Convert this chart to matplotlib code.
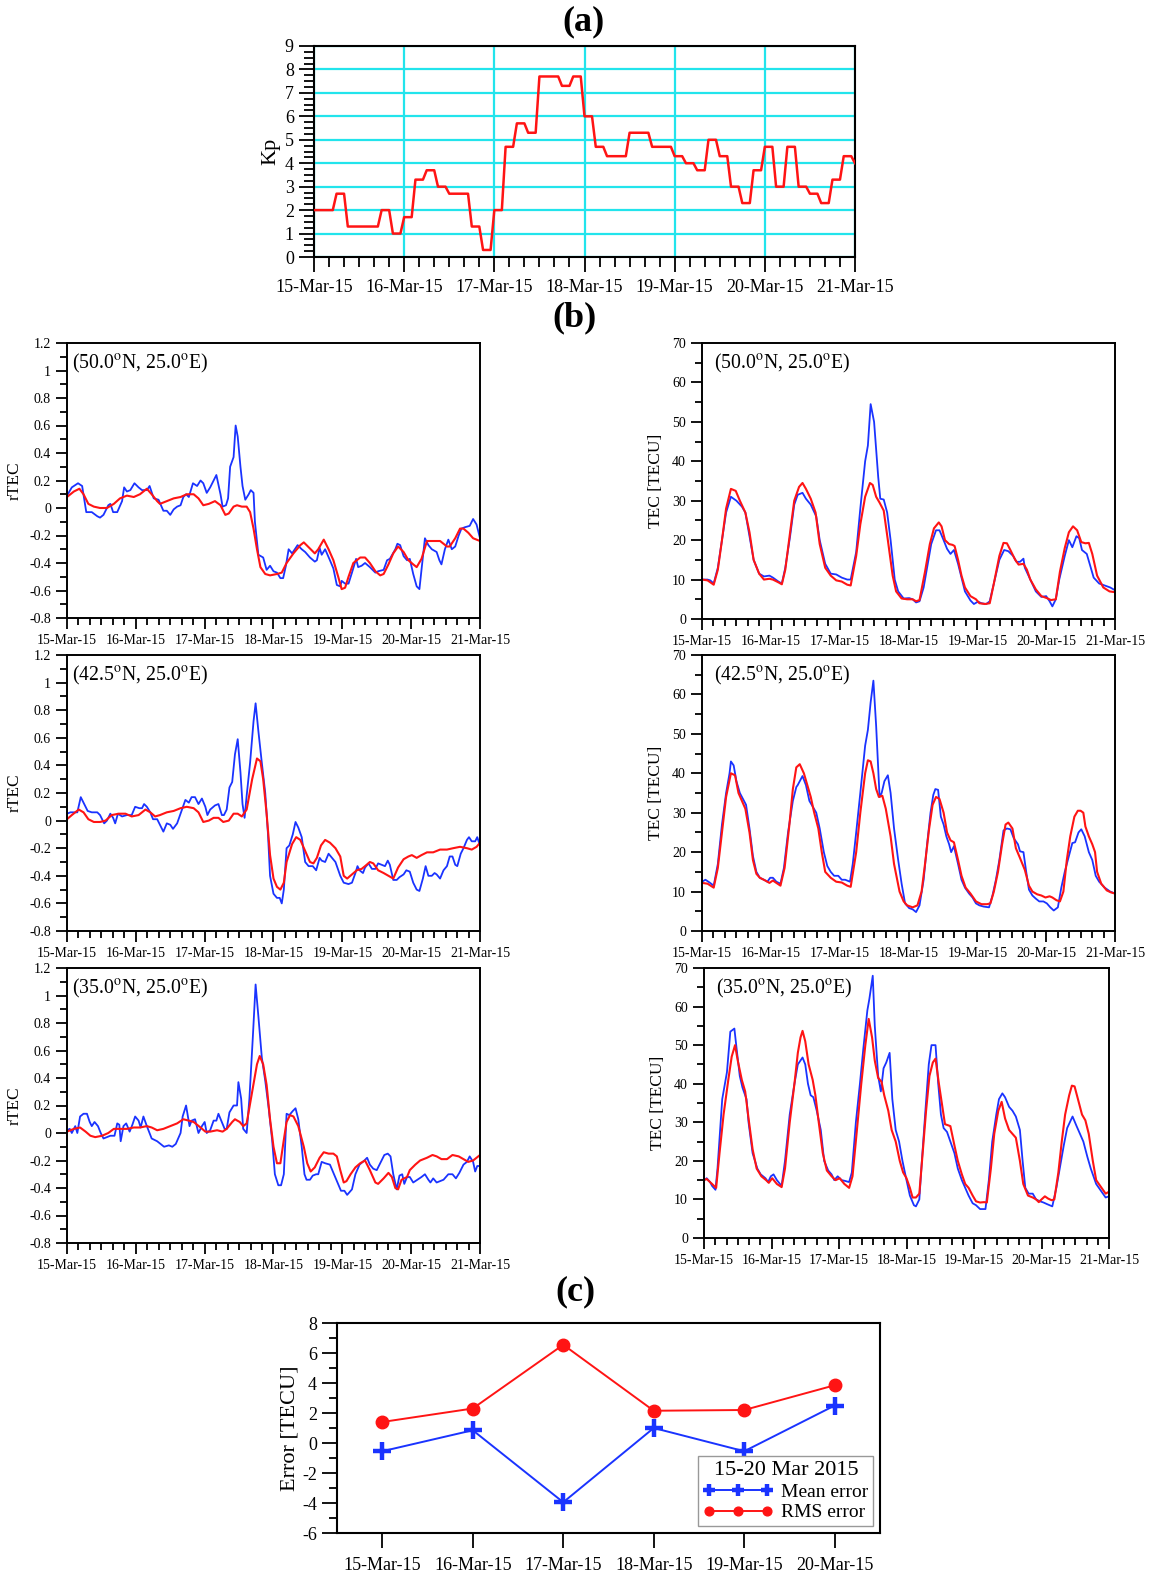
import numpy as np
import matplotlib
matplotlib.use("Agg")
import matplotlib.pyplot as plt
from matplotlib.ticker import MultipleLocator

plt.rcParams['font.family'] = ['Liberation Serif', 'DejaVu Serif']
plt.rcParams['mathtext.fontset'] = 'stix'
plt.rcParams['axes.unicode_minus'] = False

W, H = 1151, 1574
BLUE = '#1a33ff'
RED = '#ff1414'
CYAN = '#22e4ec'

date_labels = ['15-Mar-15', '16-Mar-15', '17-Mar-15', '18-Mar-15',
               '19-Mar-15', '20-Mar-15', '21-Mar-15']

# 3-hourly Kp index, 15-20 March 2015, and first value of 21 March
kp_3hourly = [2, 2, 2.7, 1.3, 1.3, 1.3, 2, 1,
              1.7, 3.3, 3.7, 3, 2.7, 2.7, 1.3, 0.3,
              2, 4.7, 5.7, 5.3, 7.7, 7.7, 7.3, 7.7,
              6, 4.7, 4.3, 4.3, 5.3, 5.3, 4.7, 4.7,
              4.3, 4, 3.7, 5, 4.3, 3, 2.3, 3.7,
              4.7, 3, 4.7, 3, 2.7, 2.3, 3.3, 4.3]
kp_next = 4.0

# (day since 15-Mar 00UT, value) pairs; obs = blue, model = red
rtec50_obs = [(0,0.09),(.07,0.15),(.16,0.18),(.22,0.16),(.28,-0.03),(.36,-0.03),(.44,-0.06),(.48,-0.07),(.53,-0.05),(.60,0.02),(.63,0.03),(.67,-0.03),(.73,-0.03),(.80,0.05),(.83,0.15),(.87,0.12),(.92,0.13),(.98,0.18),(1.04,0.15),(1.09,0.13),(1.16,0.13),(1.20,0.16),(1.26,0.07),(1.33,0.06),(1.40,-0.02),(1.45,-0.02),(1.50,-0.05),(1.55,-0.01),(1.60,0.01),(1.65,0.02),(1.69,0.08),(1.73,0.1),(1.77,0.08),(1.83,0.18),(1.89,0.16),(1.94,0.2),(1.98,0.18),(2.03,0.11),(2.08,0.15),(2.17,0.24),(2.23,0.1),(2.26,0.01),(2.31,0.02),(2.34,0.07),(2.37,0.3),(2.42,0.37),(2.45,0.6),(2.48,0.52),(2.52,0.3),(2.55,0.16),(2.59,0.06),(2.64,0.1),(2.67,0.13),(2.71,0.11),(2.73,-0.1),(2.78,-0.34),(2.85,-0.36),(2.90,-0.45),(2.95,-0.42),(3.00,-0.46),(3.05,-0.47),(3.10,-0.51),(3.14,-0.51),(3.18,-0.42),(3.22,-0.3),(3.27,-0.33),(3.31,-0.3),(3.35,-0.27),(3.41,-0.3),(3.46,-0.32),(3.53,-0.36),(3.60,-0.39),(3.63,-0.38),(3.67,-0.29),(3.70,-0.34),(3.75,-0.3),(3.82,-0.38),(3.87,-0.44),(3.92,-0.56),(3.97,-0.57),(3.99,-0.53),(4.04,-0.55),(4.09,-0.55),(4.14,-0.47),(4.20,-0.37),(4.23,-0.43),(4.28,-0.42),(4.33,-0.4),(4.40,-0.43),(4.48,-0.47),(4.52,-0.46),(4.60,-0.45),(4.65,-0.38),(4.69,-0.37),(4.77,-0.3),(4.80,-0.26),(4.84,-0.27),(4.89,-0.35),(4.94,-0.38),(4.98,-0.37),(5.03,-0.48),(5.08,-0.57),(5.12,-0.59),(5.15,-0.45),(5.20,-0.22),(5.25,-0.27),(5.30,-0.3),(5.37,-0.32),(5.41,-0.38),(5.44,-0.41),(5.49,-0.3),(5.54,-0.23),(5.59,-0.3),(5.64,-0.28),(5.69,-0.2),(5.73,-0.15),(5.78,-0.14),(5.85,-0.13),(5.90,-0.08),(5.95,-0.12),(6.00,-0.22)]
rtec50_mod = [(0,0.08),(.10,0.12),(.18,0.14),(.24,0.1),(.31,0.03),(.39,0.01),(.48,0.0),(.58,0.0),(.68,0.03),(.77,0.07),(.87,0.09),(.97,0.08),(1.06,0.1),(1.16,0.14),(1.23,0.1),(1.31,0.05),(1.35,0.03),(1.45,0.05),(1.55,0.07),(1.65,0.08),(1.74,0.1),(1.84,0.1),(1.91,0.07),(1.98,0.02),(2.06,0.03),(2.15,0.05),(2.23,0.02),(2.30,-0.05),(2.35,-0.04),(2.42,0.01),(2.47,0.02),(2.54,0.01),(2.61,0.01),(2.66,-0.03),(2.71,-0.15),(2.76,-0.3),(2.81,-0.43),(2.88,-0.48),(2.95,-0.49),(3.05,-0.48),(3.12,-0.47),(3.19,-0.4),(3.29,-0.33),(3.39,-0.27),(3.44,-0.25),(3.48,-0.27),(3.56,-0.31),(3.60,-0.33),(3.65,-0.3),(3.73,-0.23),(3.80,-0.3),(3.87,-0.38),(3.94,-0.5),(3.99,-0.59),(4.04,-0.58),(4.09,-0.5),(4.16,-0.4),(4.26,-0.36),(4.33,-0.36),(4.40,-0.4),(4.48,-0.46),(4.55,-0.49),(4.60,-0.48),(4.67,-0.41),(4.74,-0.33),(4.81,-0.28),(4.89,-0.32),(4.96,-0.38),(5.03,-0.41),(5.08,-0.43),(5.15,-0.37),(5.23,-0.24),(5.32,-0.24),(5.42,-0.24),(5.52,-0.28),(5.56,-0.28),(5.64,-0.22),(5.71,-0.15),(5.76,-0.15),(5.83,-0.18),(5.90,-0.22),(6.00,-0.24)]

rtec425_obs = [(0,0.05),(.05,0.06),(.15,0.06),(.20,0.17),(.24,0.13),(.30,0.07),(.36,0.06),(.44,0.06),(.48,0.04),(.54,-0.02),(.58,0.0),(.63,0.05),(.67,0.02),(.70,-0.02),(.74,0.05),(.80,0.03),(.87,0.04),(.94,0.04),(.99,0.1),(1.05,0.09),(1.09,0.09),(1.12,0.12),(1.16,0.1),(1.21,0.06),(1.25,0.01),(1.31,0.01),(1.35,-0.03),(1.40,-0.08),(1.45,-0.02),(1.50,-0.03),(1.54,-0.06),(1.60,-0.02),(1.67,0.08),(1.72,0.15),(1.77,0.13),(1.81,0.17),(1.86,0.17),(1.91,0.12),(1.96,0.16),(2.01,0.1),(2.04,0.04),(2.08,0.08),(2.15,0.11),(2.20,0.12),(2.25,0.04),(2.28,0.04),(2.32,0.08),(2.36,0.24),(2.40,0.28),(2.44,0.48),(2.48,0.59),(2.52,0.35),(2.55,0.12),(2.58,0.02),(2.61,0.18),(2.66,0.42),(2.71,0.72),(2.74,0.85),(2.78,0.65),(2.83,0.42),(2.88,0.2),(2.92,-0.1),(2.95,-0.4),(3.00,-0.53),(3.05,-0.56),(3.09,-0.56),(3.12,-0.6),(3.15,-0.5),(3.19,-0.2),(3.23,-0.18),(3.28,-0.1),(3.32,-0.01),(3.36,-0.05),(3.41,-0.12),(3.46,-0.3),(3.51,-0.33),(3.57,-0.33),(3.62,-0.36),(3.67,-0.27),(3.70,-0.29),(3.75,-0.3),(3.80,-0.24),(3.85,-0.27),(3.90,-0.3),(3.97,-0.4),(4.02,-0.45),(4.09,-0.46),(4.14,-0.45),(4.19,-0.38),(4.22,-0.33),(4.25,-0.36),(4.30,-0.38),(4.33,-0.34),(4.38,-0.31),(4.43,-0.35),(4.48,-0.35),(4.52,-0.31),(4.57,-0.32),(4.62,-0.33),(4.66,-0.29),(4.69,-0.32),(4.74,-0.43),(4.79,-0.43),(4.83,-0.41),(4.89,-0.39),(4.93,-0.36),(4.98,-0.37),(5.03,-0.45),(5.08,-0.5),(5.12,-0.51),(5.17,-0.42),(5.21,-0.33),(5.25,-0.4),(5.30,-0.4),(5.34,-0.38),(5.37,-0.39),(5.42,-0.42),(5.47,-0.36),(5.52,-0.33),(5.56,-0.26),(5.60,-0.26),(5.64,-0.32),(5.67,-0.33),(5.72,-0.24),(5.76,-0.2),(5.81,-0.14),(5.84,-0.12),(5.88,-0.15),(5.93,-0.15),(5.96,-0.12),(6.00,-0.18)]
rtec425_mod = [(0,0.01),(.07,0.04),(.17,0.08),(.24,0.06),(.31,0.01),(.39,-0.01),(.48,-0.01),(.56,0.0),(.65,0.04),(.75,0.05),(.85,0.05),(.94,0.03),(1.04,0.04),(1.14,0.08),(1.21,0.06),(1.28,0.03),(1.35,0.04),(1.45,0.06),(1.55,0.07),(1.65,0.09),(1.74,0.1),(1.84,0.09),(1.91,0.06),(1.98,-0.01),(2.06,0.0),(2.13,0.02),(2.20,0.02),(2.27,-0.01),(2.35,0.0),(2.42,0.05),(2.48,0.05),(2.54,0.03),(2.61,0.08),(2.69,0.3),(2.76,0.45),(2.81,0.43),(2.85,0.3),(2.90,0.05),(2.95,-0.25),(3.00,-0.42),(3.05,-0.48),(3.10,-0.5),(3.15,-0.45),(3.19,-0.3),(3.27,-0.17),(3.33,-0.12),(3.39,-0.14),(3.46,-0.22),(3.53,-0.3),(3.58,-0.31),(3.63,-0.27),(3.69,-0.18),(3.75,-0.14),(3.82,-0.16),(3.90,-0.2),(3.97,-0.26),(4.02,-0.4),(4.07,-0.42),(4.14,-0.39),(4.21,-0.36),(4.28,-0.35),(4.33,-0.33),(4.40,-0.3),(4.45,-0.31),(4.52,-0.36),(4.60,-0.38),(4.67,-0.4),(4.74,-0.42),(4.81,-0.34),(4.89,-0.28),(4.96,-0.26),(5.01,-0.25),(5.08,-0.27),(5.15,-0.25),(5.23,-0.23),(5.32,-0.23),(5.42,-0.21),(5.52,-0.21),(5.61,-0.2),(5.71,-0.19),(5.81,-0.2),(5.88,-0.21),(5.95,-0.19),(6.00,-0.16)]

rtec35_obs = [(0,0.02),(.04,0.03),(.07,0.0),(.12,0.05),(.15,0.0),(.19,0.12),(.24,0.14),(.29,0.14),(.33,0.08),(.36,0.05),(.40,0.08),(.45,0.05),(.49,0.0),(.53,-0.04),(.58,-0.03),(.63,-0.02),(.69,-0.02),(.73,0.07),(.76,0.06),(.78,-0.06),(.82,0.05),(.86,0.07),(.91,0.01),(.95,0.06),(.99,0.12),(1.04,0.09),(1.07,0.04),(1.11,0.12),(1.16,0.05),(1.23,-0.04),(1.31,-0.06),(1.36,-0.08),(1.41,-0.1),(1.48,-0.09),(1.53,-0.1),(1.58,-0.08),(1.65,0.0),(1.68,0.12),(1.73,0.2),(1.78,0.05),(1.81,0.09),(1.86,0.1),(1.91,0.0),(1.96,0.05),(2.00,0.08),(2.03,0.0),(2.08,0.02),(2.13,0.09),(2.17,0.09),(2.20,0.14),(2.25,0.08),(2.29,0.03),(2.32,0.03),(2.36,0.15),(2.42,0.2),(2.47,0.2),(2.49,0.37),(2.53,0.25),(2.56,0.03),(2.61,0.0),(2.65,0.25),(2.70,0.7),(2.74,1.08),(2.78,0.85),(2.83,0.55),(2.88,0.38),(2.93,0.18),(2.98,-0.05),(3.02,-0.3),(3.07,-0.38),(3.11,-0.38),(3.15,-0.3),(3.19,0.14),(3.23,0.13),(3.28,0.16),(3.32,0.18),(3.36,0.1),(3.41,-0.1),(3.45,-0.3),(3.48,-0.34),(3.53,-0.34),(3.57,-0.31),(3.62,-0.3),(3.65,-0.3),(3.70,-0.21),(3.75,-0.22),(3.82,-0.23),(3.87,-0.29),(3.93,-0.36),(3.98,-0.42),(4.03,-0.42),(4.07,-0.45),(4.14,-0.41),(4.19,-0.3),(4.25,-0.23),(4.32,-0.2),(4.36,-0.18),(4.40,-0.23),(4.45,-0.26),(4.50,-0.27),(4.55,-0.22),(4.61,-0.16),(4.66,-0.15),(4.70,-0.17),(4.74,-0.3),(4.79,-0.41),(4.83,-0.31),(4.87,-0.3),(4.90,-0.37),(4.94,-0.32),(4.98,-0.32),(5.03,-0.36),(5.09,-0.34),(5.15,-0.32),(5.20,-0.3),(5.25,-0.34),(5.28,-0.36),(5.32,-0.33),(5.37,-0.36),(5.42,-0.35),(5.47,-0.34),(5.54,-0.3),(5.60,-0.3),(5.65,-0.33),(5.70,-0.29),(5.76,-0.23),(5.81,-0.21),(5.85,-0.17),(5.90,-0.21),(5.93,-0.28),(5.96,-0.24),(6.00,-0.24)]
rtec35_mod = [(0,0.01),(.10,0.03),(.19,0.04),(.27,0.01),(.34,-0.02),(.41,-0.03),(.51,-0.02),(.60,0.0),(.68,0.03),(.77,0.03),(.87,0.03),(.97,0.04),(1.06,0.04),(1.16,0.05),(1.23,0.04),(1.31,0.02),(1.40,0.03),(1.50,0.05),(1.60,0.07),(1.69,0.1),(1.77,0.09),(1.84,0.08),(1.94,0.04),(2.01,0.01),(2.08,0.01),(2.18,0.02),(2.26,0.01),(2.32,0.03),(2.40,0.08),(2.44,0.1),(2.51,0.08),(2.56,0.05),(2.61,0.07),(2.69,0.3),(2.76,0.5),(2.80,0.56),(2.85,0.5),(2.90,0.35),(2.95,0.1),(3.00,-0.1),(3.05,-0.22),(3.10,-0.22),(3.15,-0.05),(3.19,0.08),(3.24,0.13),(3.29,0.12),(3.36,0.05),(3.44,-0.1),(3.49,-0.22),(3.54,-0.28),(3.60,-0.25),(3.67,-0.18),(3.73,-0.14),(3.80,-0.15),(3.87,-0.15),(3.92,-0.17),(3.97,-0.27),(4.02,-0.36),(4.06,-0.35),(4.12,-0.3),(4.19,-0.25),(4.26,-0.22),(4.33,-0.2),(4.40,-0.27),(4.48,-0.36),(4.52,-0.37),(4.60,-0.33),(4.67,-0.29),(4.72,-0.32),(4.77,-0.4),(4.81,-0.41),(4.86,-0.34),(4.94,-0.32),(4.98,-0.27),(5.06,-0.23),(5.13,-0.2),(5.23,-0.18),(5.31,-0.16),(5.37,-0.17),(5.44,-0.19),(5.52,-0.19),(5.60,-0.16),(5.69,-0.17),(5.76,-0.19),(5.83,-0.21),(5.90,-0.2),(6.00,-0.16)]

tec50_obs = [(0,10),(.08,10),(.12,9.8),(.17,9),(.23,13),(.29,20),(.35,27),(.42,31),(.50,30),(.58,28.5),(.63,27),(.69,21),(.75,15),(.83,11.5),(.90,10.8),(.98,11),(1.03,10.5),(1.11,9.5),(1.16,9),(1.21,13),(1.28,21),(1.34,29),(1.39,31.5),(1.46,32),(1.51,30.5),(1.58,29),(1.66,26),(1.71,20),(1.79,14),(1.87,11.5),(1.95,11.3),(2.03,10.5),(2.11,10),(2.16,10),(2.24,17),(2.30,28),(2.37,40),(2.41,44),(2.45,54.5),(2.50,50),(2.56,36),(2.59,30.5),(2.64,30.3),(2.69,27),(2.74,20),(2.80,10),(2.85,7),(2.93,5.2),(3.01,5.3),(3.06,5),(3.11,4.2),(3.16,4.5),(3.22,8),(3.27,13),(3.33,19),(3.40,22.5),(3.45,22.5),(3.51,20),(3.56,17.8),(3.61,16.5),(3.66,17.5),(3.72,14),(3.77,10.5),(3.82,7),(3.90,4.7),(3.95,3.8),(4.01,4.4),(4.06,4),(4.13,3.8),(4.18,4.5),(4.24,9),(4.32,15),(4.39,17.5),(4.45,17.2),(4.52,16),(4.57,14.5),(4.62,14.5),(4.67,15.3),(4.69,13),(4.77,10),(4.85,7),(4.93,5.6),(5.00,5.8),(5.05,4.5),(5.09,3.2),(5.14,5),(5.19,10),(5.27,16),(5.33,20),(5.38,18.2),(5.44,21),(5.48,20.5),(5.52,17.5),(5.59,16.5),(5.64,13.5),(5.69,10.5),(5.77,9),(5.85,8.5),(5.93,8),(6.00,7.3)]
tec50_mod = [(0,10),(.08,9.8),(.17,8.7),(.23,12.5),(.29,20),(.35,28),(.42,33),(.49,32.5),(.55,30),(.63,27),(.69,22),(.75,15),(.83,11.5),(.90,10),(.98,10.2),(1.03,10),(1.11,9.3),(1.16,8.8),(1.21,12.5),(1.28,22),(1.34,30),(1.41,33.5),(1.46,34.5),(1.51,33),(1.58,30.5),(1.65,27),(1.71,19),(1.79,13),(1.87,11),(1.95,9.8),(2.03,9.5),(2.11,8.7),(2.16,8.5),(2.24,16),(2.30,24),(2.37,31),(2.44,34.5),(2.48,34),(2.53,31),(2.58,29.5),(2.64,27.5),(2.70,20),(2.77,11),(2.82,7),(2.90,5.2),(2.98,5),(3.06,5),(3.11,4.5),(3.16,4.8),(3.24,12),(3.31,19),(3.37,23),(3.44,24.5),(3.48,23.5),(3.53,20),(3.59,19),(3.64,18.8),(3.67,18.5),(3.72,15),(3.77,11),(3.82,8),(3.90,5.8),(3.98,5),(4.03,4),(4.11,3.8),(4.18,4),(4.24,9),(4.32,16),(4.38,19.3),(4.43,19.2),(4.48,17.5),(4.55,15),(4.60,13.8),(4.67,14),(4.72,12.5),(4.77,10),(4.85,7.5),(4.93,5.8),(5.01,5.3),(5.07,4.8),(5.14,5),(5.20,12),(5.27,18),(5.33,22),(5.39,23.5),(5.45,22.5),(5.51,19.5),(5.57,19.2),(5.62,19.3),(5.67,16.5),(5.74,11),(5.83,8),(5.92,7),(6.00,6.8)]

tec425_obs = [(0,12.5),(.05,13),(.11,12.3),(.17,11.5),(.23,17),(.29,27),(.35,35),(.40,40),(.42,43),(.46,42),(.50,38),(.55,35),(.61,33),(.64,32),(.69,26),(.74,19),(.79,15),(.84,13.5),(.90,13),(.95,12.5),(.99,13.5),(1.03,13.5),(1.08,12.5),(1.14,12),(1.19,16),(1.25,25),(1.32,33),(1.37,36.5),(1.39,37),(1.46,39.3),(1.51,37),(1.56,33),(1.61,31.5),(1.66,30),(1.71,26),(1.77,20),(1.82,16.5),(1.87,15),(1.92,14),(1.98,14),(2.03,13),(2.08,13),(2.15,12.5),(2.19,17),(2.24,25),(2.30,35),(2.37,47),(2.41,51),(2.45,58),(2.49,63.5),(2.53,52),(2.58,34),(2.61,35),(2.65,38),(2.70,39.5),(2.74,35),(2.79,26),(2.85,18),(2.90,12),(2.95,7),(3.01,5.8),(3.06,5.5),(3.11,4.8),(3.16,6.5),(3.22,13),(3.27,22),(3.32,30),(3.36,34.5),(3.39,36),(3.43,35.8),(3.47,29),(3.51,27),(3.55,24),(3.59,22),(3.62,20),(3.66,21.5),(3.72,17),(3.77,13),(3.82,11),(3.88,9.5),(3.93,8.5),(3.98,7),(4.03,6.5),(4.09,6.2),(4.17,6),(4.22,9),(4.27,13),(4.32,18),(4.38,25.5),(4.43,26),(4.48,25.8),(4.53,23.5),(4.59,22),(4.62,20.2),(4.67,20),(4.71,15),(4.75,10.5),(4.80,9),(4.85,8.2),(4.90,7.5),(4.96,7.5),(5.01,7),(5.06,6),(5.11,5.2),(5.17,6),(5.22,11),(5.27,15),(5.33,19),(5.38,22.3),(5.42,22.5),(5.47,25),(5.51,25.8),(5.56,24),(5.62,20),(5.67,18),(5.72,14),(5.77,12.5),(5.85,11),(5.93,10),(6.00,9.5)]
tec425_mod = [(0,12.2),(.08,12),(.17,11),(.23,16),(.29,25),(.35,34),(.42,40),(.48,39.5),(.53,35),(.58,33),(.63,31),(.69,25),(.74,18),(.79,14.5),(.84,13.5),(.92,12.8),(.98,12.2),(1.03,12.8),(1.08,12.2),(1.14,11.5),(1.20,16),(1.27,27),(1.32,36),(1.37,41.5),(1.42,42.3),(1.48,40),(1.53,37),(1.58,34),(1.63,30),(1.69,26),(1.74,20),(1.79,15),(1.87,13.5),(1.95,12.5),(2.03,12.3),(2.11,11.5),(2.16,11.2),(2.24,20),(2.30,30),(2.37,40),(2.41,43.3),(2.45,43),(2.49,40),(2.53,36),(2.57,34),(2.62,34.3),(2.67,31),(2.74,24),(2.79,17),(2.87,10),(2.93,7.5),(2.98,6.5),(3.06,6),(3.13,6.5),(3.19,10),(3.24,17),(3.30,26),(3.35,32),(3.40,34),(3.45,33.5),(3.51,30),(3.56,25),(3.61,23),(3.66,22.5),(3.72,18),(3.77,14),(3.83,11),(3.90,9.5),(3.98,7.5),(4.06,6.8),(4.14,6.8),(4.19,7),(4.24,10),(4.30,15),(4.36,22),(4.41,27),(4.45,27.5),(4.51,26),(4.56,21),(4.62,18.5),(4.69,15.5),(4.75,11.5),(4.80,10),(4.87,9.3),(4.93,9),(4.99,8.5),(5.05,8.8),(5.09,8.5),(5.15,7.8),(5.20,7.5),(5.25,10),(5.30,18),(5.35,24),(5.41,29),(5.46,30.5),(5.50,30.5),(5.54,30),(5.57,26.5),(5.62,24),(5.67,22),(5.71,20),(5.74,15),(5.80,12),(5.88,10.3),(5.94,9.8),(6.00,9.5)]

tec35_obs = [(0,15),(.04,15.5),(.09,14.5),(.12,13.5),(.17,12.5),(.20,18),(.27,36),(.34,43),(.39,53.5),(.45,54.3),(.49,48),(.53,42),(.57,39),(.63,36),(.66,30),(.72,22),(.79,18),(.84,16.5),(.91,15.5),(.95,14.5),(.99,16),(1.03,16.5),(1.08,15),(1.15,13.5),(1.20,20),(1.27,32),(1.34,40),(1.39,45),(1.46,46.8),(1.50,45),(1.54,40),(1.58,37),(1.62,36.5),(1.67,33),(1.73,28),(1.78,20),(1.84,17.5),(1.89,16.5),(1.93,15),(1.98,16),(2.04,15),(2.09,14.8),(2.15,14.5),(2.19,17),(2.25,30),(2.31,40),(2.36,49),(2.42,59),(2.45,62),(2.50,68),(2.53,55),(2.58,42),(2.62,38),(2.66,44),(2.70,45.5),(2.75,48),(2.79,36),(2.84,28),(2.89,25),(2.94,20),(3.00,15),(3.05,11),(3.11,8.5),(3.14,8.2),(3.19,10),(3.22,18),(3.28,33),(3.33,45),(3.37,50),(3.43,50),(3.47,40),(3.51,32),(3.55,28.5),(3.60,27.5),(3.65,25),(3.71,22),(3.76,18),(3.82,15),(3.87,13),(3.92,11),(3.98,9),(4.03,8.5),(4.09,7.5),(4.17,7.5),(4.22,15),(4.27,25),(4.33,32),(4.37,36),(4.42,37.5),(4.46,36.5),(4.52,34),(4.57,33),(4.62,31.5),(4.68,28),(4.72,20),(4.76,13),(4.81,11.5),(4.87,11.5),(4.92,10),(4.98,9.5),(5.03,9.2),(5.08,8.8),(5.16,8.2),(5.22,13),(5.27,18),(5.33,24),(5.38,28.5),(5.42,30),(5.46,31.5),(5.52,29),(5.57,27),(5.62,25),(5.68,21),(5.73,18),(5.81,14),(5.89,12),(5.95,10.5),(6.00,10.8)]
tec35_mod = [(0,15),(.04,15.3),(.12,14),(.18,13),(.23,22),(.29,32),(.36,41),(.41,47),(.46,50),(.50,46),(.56,41),(.61,38),(.66,31),(.72,23),(.78,18),(.85,16),(.92,15),(.96,14.3),(1.01,15.5),(1.08,14),(1.15,13.2),(1.20,18),(1.27,30),(1.34,40),(1.39,48),(1.43,52),(1.46,53.7),(1.50,51),(1.55,45),(1.61,41),(1.65,37),(1.70,30),(1.76,22),(1.82,17.5),(1.89,16),(1.95,15),(2.01,15.5),(2.08,14),(2.15,13),(2.20,16),(2.26,27),(2.33,40),(2.39,50),(2.44,56.8),(2.49,52),(2.53,46),(2.58,41.5),(2.63,40.5),(2.67,37),(2.73,33),(2.78,28),(2.84,25),(2.90,20),(2.95,17),(3.00,15.5),(3.05,13),(3.09,10.5),(3.14,10.5),(3.19,11.5),(3.23,20),(3.29,33),(3.34,42),(3.39,45.5),(3.43,46.5),(3.48,40),(3.54,33),(3.57,29.5),(3.62,29.2),(3.65,29),(3.71,24),(3.76,20),(3.82,16.5),(3.87,14),(3.92,13),(3.98,11),(4.03,9.5),(4.09,9.2),(4.15,9.3),(4.19,9.2),(4.25,18),(4.30,27),(4.36,33),(4.41,35.3),(4.46,31),(4.52,28),(4.57,27),(4.62,26),(4.68,20),(4.73,14),(4.80,11),(4.87,10.5),(4.92,10),(4.96,9.3),(5.00,10),(5.05,10.8),(5.10,10.2),(5.15,9.8),(5.19,10),(5.25,17),(5.30,25),(5.35,32),(5.41,37),(5.45,39.5),(5.49,39.3),(5.54,36),(5.60,32),(5.65,30.5),(5.70,27),(5.76,20),(5.81,15),(5.89,13),(5.95,11.5),(6.00,12)]

# Daily error statistics, 15-20 March 2015
err_days = date_labels[:6]
mean_error = [-0.55, 0.85, -3.95, 1.0, -0.55, 2.5]
rms_error = [1.4, 2.3, 6.55, 2.15, 2.2, 3.85]

loc_labels = ['(50.0$^{\\rm o}$N, 25.0$^{\\rm o}$E)',
              '(42.5$^{\\rm o}$N, 25.0$^{\\rm o}$E)',
              '(35.0$^{\\rm o}$N, 25.0$^{\\rm o}$E)']

fig = plt.figure(figsize=(W / 100, H / 100), dpi=100)


def add_box(l, t, r, b):
    return fig.add_axes([l / W, 1 - b / H, (r - l) / W, (b - t) / H])


def frame(ax, major_len, minor_len, lw=1.5):
    for s in ax.spines.values():
        s.set_linewidth(lw)
    ax.tick_params(which='both', direction='out', top=False, right=False,
                   width=1.3, colors='black')
    ax.tick_params(which='major', length=major_len)
    ax.tick_params(which='minor', length=minor_len)


def split(pairs):
    d, v = zip(*pairs)
    return np.array(d), np.array(v)


def day_axis(ax, size):
    ax.set_xlim(0, 6)
    ax.set_xticks(range(7))
    ax.set_xticklabels(date_labels, fontsize=size)
    ax.xaxis.set_minor_locator(MultipleLocator(1 / 6))


# ---------------- (a) Kp ----------------
ax = add_box(314, 46, 855, 257)
kp_hourly = np.append(np.repeat(kp_3hourly, 3), kp_next)
ax.plot(np.arange(len(kp_hourly)) / 24, kp_hourly, color=RED, lw=1.8, zorder=3)
day_axis(ax, 13)
ax.set_ylim(0, 9)
ax.set_yticks(range(10))
ax.yaxis.set_minor_locator(MultipleLocator(0.25))
ax.tick_params(axis='y', labelsize=13)
ax.grid(True, which='major', color=CYAN, lw=1.6)
ax.set_axisbelow(True)
frame(ax, 11, 7)
ax.tick_params(axis='x', pad=5)
ax.set_ylabel('Kp', fontsize=16, labelpad=3)
fig.text(583 / W, 1 - 22 / H, '(a)', fontsize=26, fontweight='bold',
         ha='center', va='center')

# ---------------- (b) rTEC and TEC ----------------
fig.text(575 / W, 1 - 318 / H, '(b)', fontsize=26, fontweight='bold',
         ha='center', va='center')

left_boxes = [(67, 343, 480, 618), (67, 655, 480, 931), (67, 968, 480, 1243)]
right_boxes = [(702, 343, 1115, 619), (702, 655, 1115, 931), (704, 968, 1109, 1238)]
rtec_sets = [(rtec50_obs, rtec50_mod), (rtec425_obs, rtec425_mod), (rtec35_obs, rtec35_mod)]
tec_sets = [(tec50_obs, tec50_mod), (tec425_obs, tec425_mod), (tec35_obs, tec35_mod)]

for i in range(3):
    # relative TEC
    ax = add_box(*left_boxes[i])
    obs, mod = rtec_sets[i]
    ax.plot(*split(obs), color=BLUE, lw=1.3)
    ax.plot(*split(mod), color=RED, lw=1.5)
    day_axis(ax, 10)
    ax.set_ylim(-0.8, 1.2)
    ax.set_yticks(np.round(np.arange(-0.8, 1.21, 0.2), 1))
    ax.set_yticklabels(['-0.8', '-0.6', '-0.4', '-0.2', '0', '0.2', '0.4',
                        '0.6', '0.8', '1', '1.2'])
    ax.yaxis.set_minor_locator(MultipleLocator(0.1))
    ax.tick_params(axis='y', labelsize=10)
    frame(ax, 8, 5, lw=1.4)
    ax.set_ylabel('rTEC', fontsize=12.5, labelpad=5)
    ax.text(0.012, 0.925, loc_labels[i], transform=ax.transAxes,
            fontsize=14.2, ha='left', va='center')

    # absolute TEC
    ax = add_box(*right_boxes[i])
    obs, mod = tec_sets[i]
    ax.plot(*split(obs), color=BLUE, lw=1.3)
    ax.plot(*split(mod), color=RED, lw=1.5)
    day_axis(ax, 10)
    ax.set_ylim(0, 70)
    ax.set_yticks(range(0, 71, 10))
    ax.yaxis.set_minor_locator(MultipleLocator(5))
    ax.tick_params(axis='y', labelsize=10)
    frame(ax, 8, 5, lw=1.4)
    ax.set_ylabel('TEC [TECU]', fontsize=12.5, labelpad=6)
    ax.text(0.03, 0.925, loc_labels[i], transform=ax.transAxes,
            fontsize=14.2, ha='left', va='center')

# ---------------- (c) error statistics ----------------
fig.text(575 / W, 1 - 1292 / H, '(c)', fontsize=26, fontweight='bold',
         ha='center', va='center')
ax = add_box(337, 1323, 880, 1533)
xc = np.arange(len(err_days))
ax.plot(xc, mean_error, color=BLUE, lw=1.4, marker='+', markersize=13,
        markeredgewidth=3.2, label='Mean error')
ax.plot(xc, rms_error, color=RED, lw=1.4, marker='o', markersize=9,
        label='RMS error')
ax.set_xlim(-0.5, 5.5)
ax.set_xticks(xc)
ax.set_xticklabels(err_days, fontsize=13)
ax.set_ylim(-6, 8)
ax.set_yticks(range(-6, 9, 2))
ax.yaxis.set_minor_locator(MultipleLocator(1))
ax.tick_params(axis='y', labelsize=13)
frame(ax, 11, 6)
ax.tick_params(axis='x', pad=6)
ax.set_ylabel('Error [TECU]', fontsize=16, labelpad=2)
leg = ax.legend(loc='lower right', title='15-20 Mar 2015', numpoints=3,
                fontsize=14, title_fontsize=16, fancybox=False,
                framealpha=1, edgecolor='#999999', borderaxespad=0.35,
                markerscale=0.7, handlelength=3.6, handletextpad=0.4,
                borderpad=0.25, labelspacing=0.15)
leg.get_frame().set_linewidth(1.0)

fig.savefig('out.png', dpi=100)
